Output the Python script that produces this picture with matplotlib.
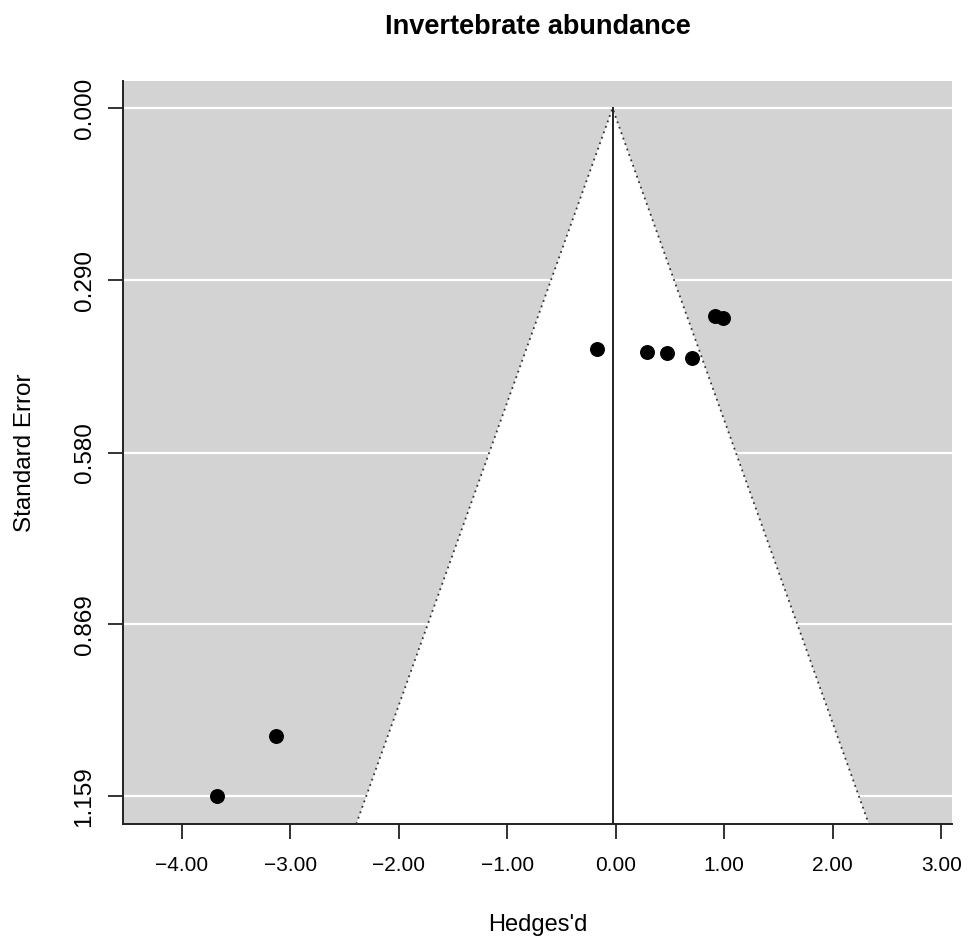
import numpy as np
import matplotlib
matplotlib.use("Agg")
import matplotlib.pyplot as plt

# effect sizes (Hedges' d) and their standard errors
hedges_d = [-0.17, 0.29, 0.47, 0.70, 0.91, 0.99, -3.13, -3.68]
std_err = [0.406, 0.410, 0.413, 0.421, 0.350, 0.354, 1.057, 1.159]
pooled_est = -0.03

x_ticks = [-4, -3, -2, -1, 0, 1, 2, 3]
x_labels = ["\u22124.00", "\u22123.00", "\u22122.00", "\u22121.00", "0.00", "1.00", "2.00", "3.00"]
y_ticks = [0.000, 0.290, 0.580, 0.869, 1.159]
y_labels = ["0.000", "0.290", "0.580", "0.869", "1.159"]

plt.rcParams["font.family"] = ["Liberation Sans", "DejaVu Sans"]

fig = plt.figure(figsize=(9.71, 9.42), dpi=100)
ax = fig.add_axes([0.127, 0.1253, 0.8535, 0.789])

ymax_se = max(std_err)
ylim_bot = ymax_se * 1.04
ylim_top = -ymax_se * 0.04
ax.set_xlim(-4.54, 3.10)
ax.set_ylim(ylim_bot, ylim_top)
ax.set_facecolor("#d3d3d3")

# white horizontal reference lines
for yv in y_ticks:
    ax.axhline(yv, color="white", lw=1.6, zorder=1)

# pseudo confidence region
z = 1.96
fx = [pooled_est - z * ylim_bot, pooled_est, pooled_est + z * ylim_bot]
fy = [ylim_bot, 0, ylim_bot]
ax.fill(fx, fy, color="white", zorder=2, lw=0)
ax.plot(fx, fy, color="#333333", ls=(0, (1, 2.2)), lw=1.3, zorder=3)
ax.plot([pooled_est, pooled_est], [0, ylim_bot], color="#222222", lw=1.4, zorder=3)

ax.scatter(hedges_d, std_err, s=95, color="black", zorder=5)

ax.set_xticks(x_ticks)
ax.set_xticklabels(x_labels)
ax.set_yticks(y_ticks)
ax.set_yticklabels(y_labels, rotation=90, va="center")
ax.tick_params(axis="both", length=11, width=1.3, color="#222222")
ax.tick_params(axis="x", labelsize=15, pad=12)
ax.tick_params(axis="y", labelsize=17.5, pad=9)

for s in ["top", "right"]:
    ax.spines[s].set_visible(False)
for s in ["left", "bottom"]:
    ax.spines[s].set_color("#222222")
    ax.spines[s].set_linewidth(1.4)

ax.set_xlabel("Hedges'd", fontsize=17, labelpad=28)
ax.set_ylabel("Standard Error", fontsize=17.5, labelpad=27)
ax.set_title("Invertebrate abundance", fontsize=19.5, fontweight="bold", pad=34)

fig.savefig("out.png", dpi=100)
